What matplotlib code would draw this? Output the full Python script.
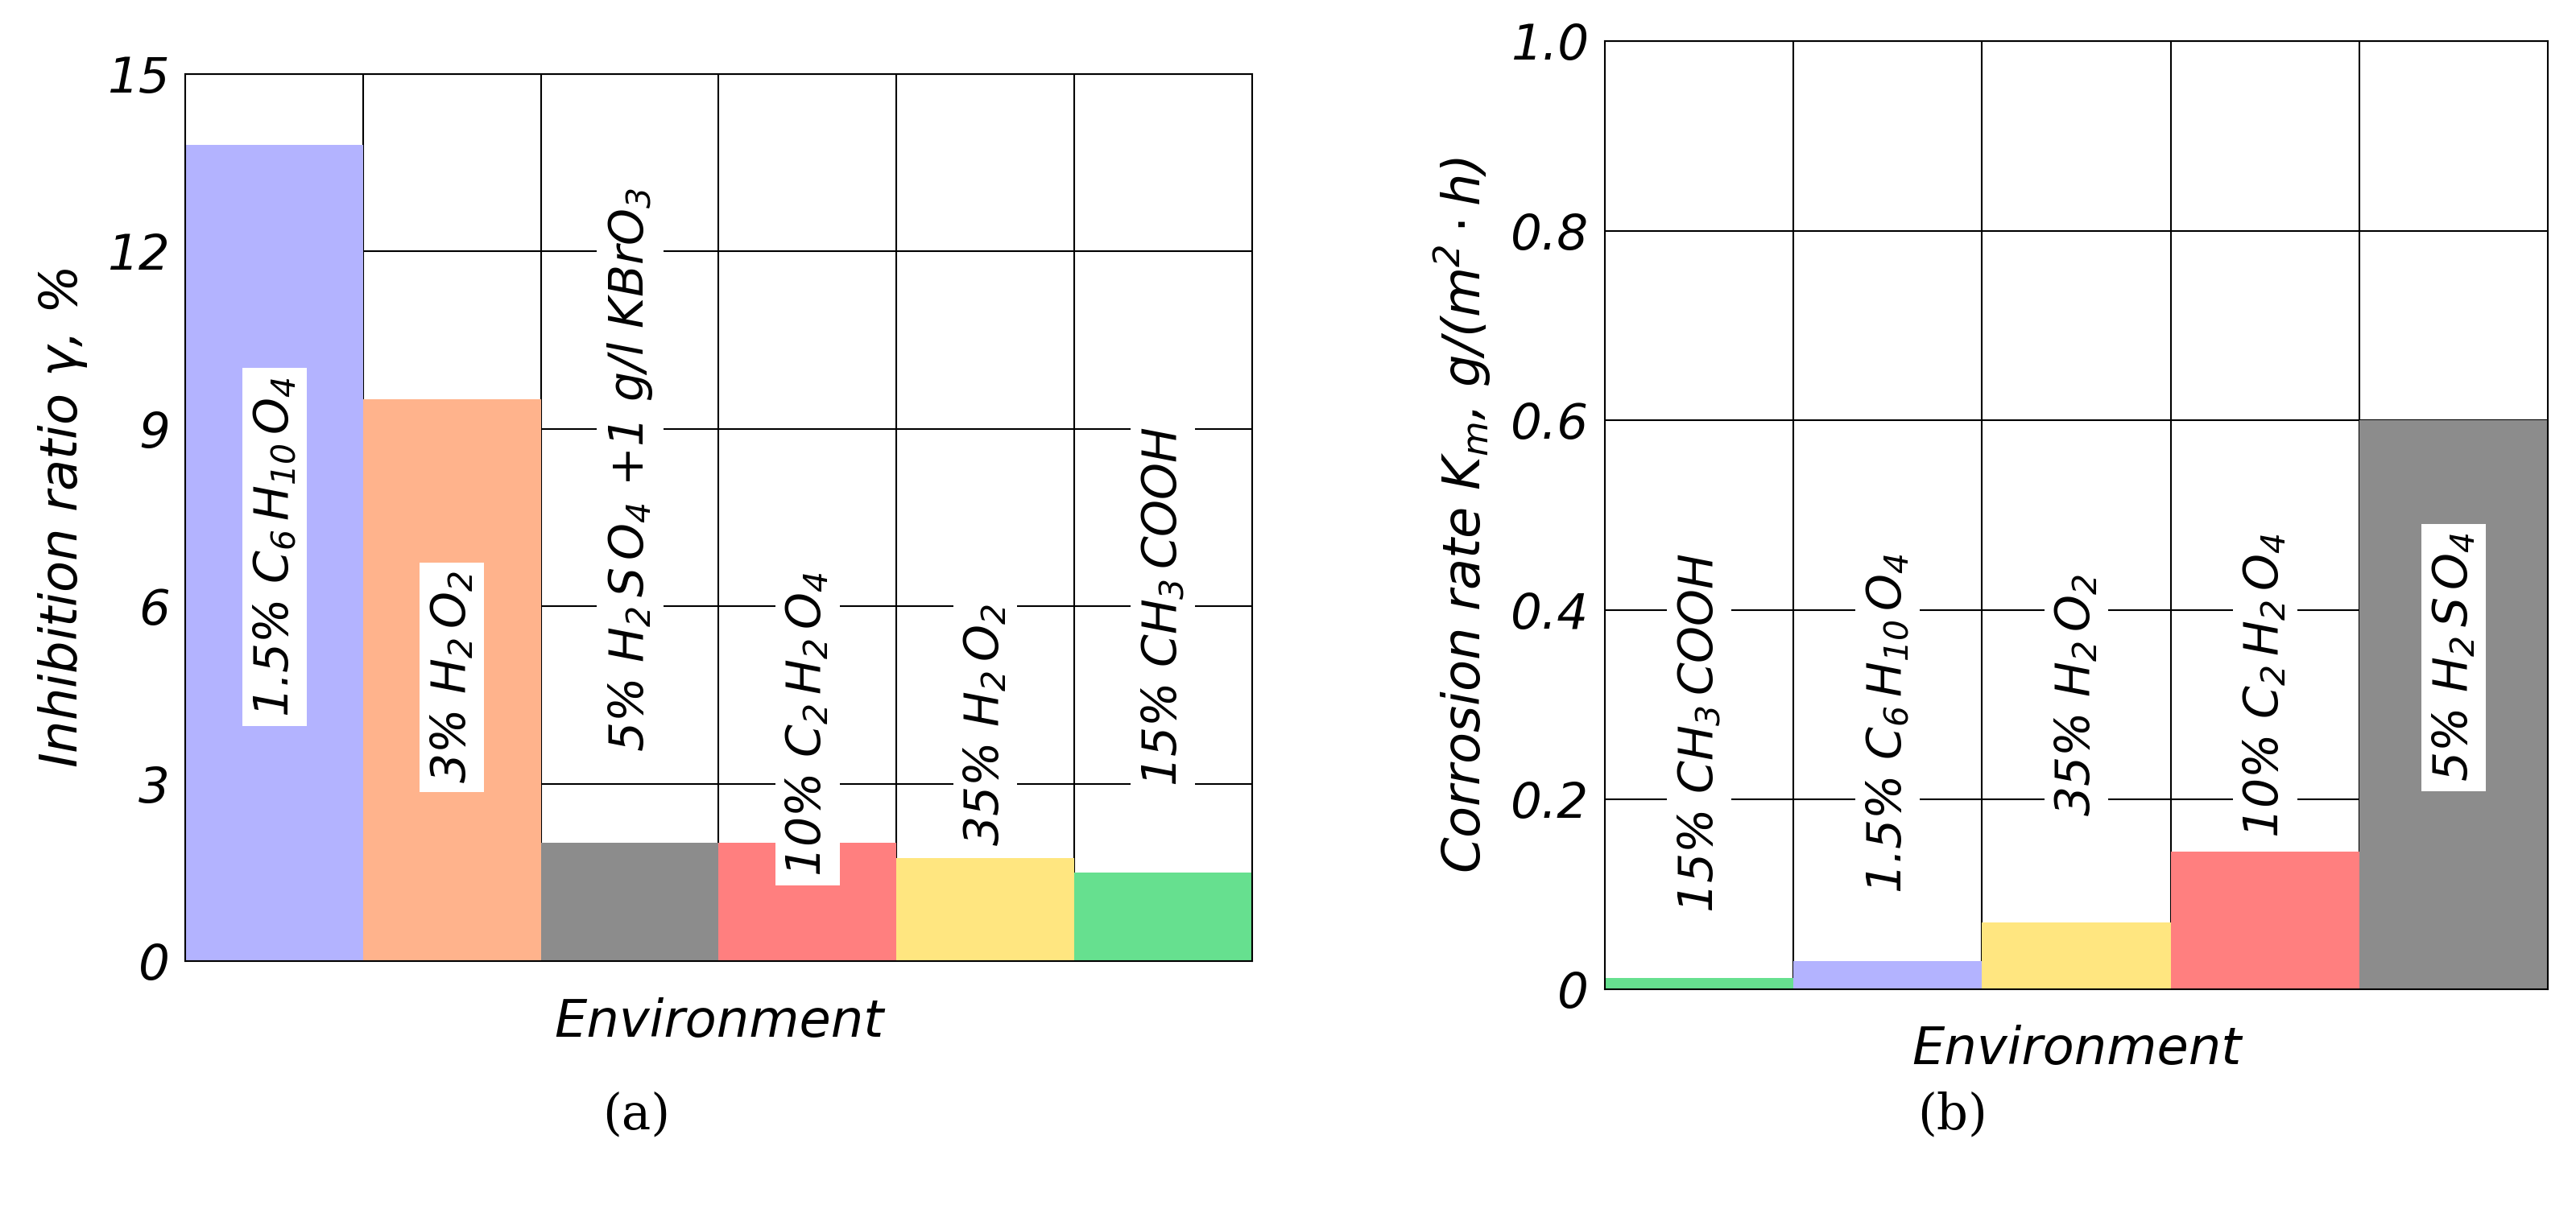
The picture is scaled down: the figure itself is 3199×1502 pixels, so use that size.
import matplotlib.pyplot as plt

plt.rcParams['font.family'] = 'DejaVu Sans'
plt.rcParams['font.style'] = 'oblique'
plt.rcParams['mathtext.fontset'] = 'dejavusans'
plt.rcParams['mathtext.default'] = 'it'

# panel (a)
labels_a = [r'1.5% $C_6\,H_{10}\,O_4$', r'3% $H_2\,O_2$', r'5% $H_2\,S\,O_4$ +1 g/l $KBrO_3$',
            r'10% $C_2\,H_2\,O_4$', r'35% $H_2\,O_2$', r'15% $CH_3\,COOH$']
values_a = [13.8, 9.5, 2.0, 2.0, 1.75, 1.5]
colors_a = ['#b3b3ff', '#ffb38c', '#8c8c8c', '#ff7f7f', '#ffe680', '#66e08f']
label_y_a = [7.0, 4.8, 8.3, 4.0, 4.0, 6.0]

# panel (b)
labels_b = [r'15% $CH_3\,COOH$', r'1.5% $C_6\,H_{10}\,O_4$', r'35% $H_2\,O_2$',
            r'10% $C_2\,H_2\,O_4$', r'5% $H_2\,S\,O_4$']
values_b = [0.012, 0.03, 0.07, 0.145, 0.6]
colors_b = ['#66e08f', '#b3b3ff', '#ffe680', '#ff7f7f', '#8c8c8c']
label_y_b = [0.27, 0.28, 0.31, 0.32, 0.35]

W, H = 1570, 737  # layout measured on a scaled view of the reference
fig = plt.figure(figsize=(31.99, 15.02), dpi=100)
ax1 = fig.add_axes([113/W, 1-586/H, 650/W, 541/H])
ax2 = fig.add_axes([978/W, 1-603/H, 575/W, 578/H])

def draw(ax, labels, values, colors, ly, ymax, yticks, tickfmt, ylabel):
    x = range(len(values))
    ax.bar(x, values, width=1.0, color=colors, zorder=2)
    ax.set_xlim(-0.5, len(values) - 0.5)
    ax.set_ylim(0, ymax)
    ax.set_yticks(yticks)
    ax.set_yticklabels([tickfmt(t) for t in yticks], fontsize=44)
    ax.set_xticks([i + 0.5 for i in x[:-1]])
    ax.set_xticklabels([])
    ax.tick_params(length=0, pad=14)
    ax.grid(True, color='black', linewidth=1.5, zorder=1)
    for s in ax.spines.values():
        s.set_linewidth(1.5)
    for i, (lab, y) in enumerate(zip(labels, ly)):
        ax.text(i, y, lab, rotation=90, ha='center', va='center', fontsize=42, zorder=3,
                bbox=dict(facecolor='white', edgecolor='none', pad=8))
    ax.set_xlabel('Environment', fontsize=46, labelpad=18)
    ax.set_ylabel(ylabel, fontsize=46, labelpad=16)

draw(ax1, labels_a, values_a, colors_a, label_y_a, 15, [0, 3, 6, 9, 12, 15],
     lambda t: f'{t:g}', r'Inhibition ratio $\gamma$, %')
draw(ax2, labels_b, values_b, colors_b, label_y_b, 1.0, [0, 0.2, 0.4, 0.6, 0.8, 1.0],
     lambda t: '0' if t == 0 else f'{t:.1f}', r'Corrosion rate $K_m$, g/(m$^2\cdot$h)')

fig.text(388/W, 1-680/H, '(a)', fontsize=44, family='DejaVu Serif', style='normal', ha='center', va='center')
fig.text(1190/W, 1-680/H, '(b)', fontsize=44, family='DejaVu Serif', style='normal', ha='center', va='center')

fig.savefig('out.png', dpi=100, facecolor='white')
